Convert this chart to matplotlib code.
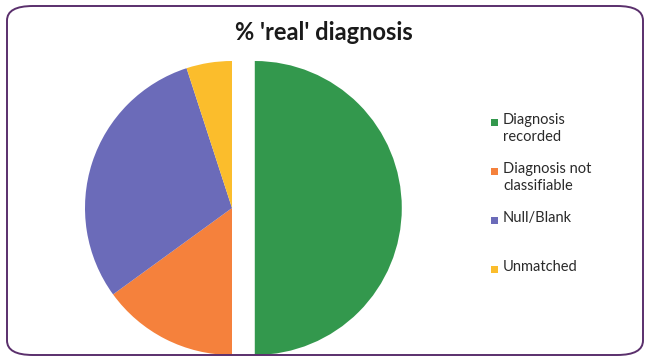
import matplotlib
matplotlib.use('Agg')
import matplotlib.pyplot as plt
from matplotlib.patches import FancyBboxPatch, Rectangle

# data (percent of records)
labels = ['Diagnosis\nrecorded', 'Diagnosis not\nclassifiable', 'Null/Blank', 'Unmatched']
values = [50, 15, 30, 5]
colors = ['#33984d', '#f5813c', '#6b6bb9', '#fbbd2c']
explode = [0.155, 0, 0, 0]

W, H = 649, 362
fig = plt.figure(figsize=(W / 100, H / 100), dpi=100)
fig.patch.set_facecolor('white')

# rounded border around the chart
border = FancyBboxPatch((7 / W, 7 / H), (W - 13) / W, (H - 13) / H,
                        boxstyle='round,pad=0,rounding_size=0.04',
                        transform=fig.transFigure, fill=False,
                        edgecolor='#5a2f6c', linewidth=1.4)
fig.patches.append(border)

# pie axes: whole figure, data units = radius
cx, cy, r = 232, 208, 147
ax = fig.add_axes([0, 0, 1, 1])
ax.pie(values, colors=colors, explode=explode, startangle=90,
       counterclock=False, wedgeprops={'linewidth': 0})
ax.set_xlim(-cx / r, (W - cx) / r)
ax.set_ylim(-(H - cy) / r, cy / r)
ax.set_aspect('auto')
ax.axis('off')

fig.text(324 / W, 1 - 33 / H, "% 'real' diagnosis", ha='center', va='center',
         fontsize=17, fontweight='bold', family='Lato', color='#1a1a1a')

# legend, one slot per entry
y0, step = 122, 49
for i, (lab, col) in enumerate(zip(labels, colors)):
    y = y0 + i * step
    fig.patches.append(Rectangle((491 / W, 1 - (y + 3.5) / H), 7 / W, 7 / H,
                                 transform=fig.transFigure, facecolor=col,
                                 edgecolor='none'))
    fig.text(503 / W, 1 - (y - 9) / H, lab, ha='left', va='top',
             fontsize=10.5, family='Lato', color='#2a2a2a', linespacing=1.3)

fig.savefig('out.png', dpi=100)
